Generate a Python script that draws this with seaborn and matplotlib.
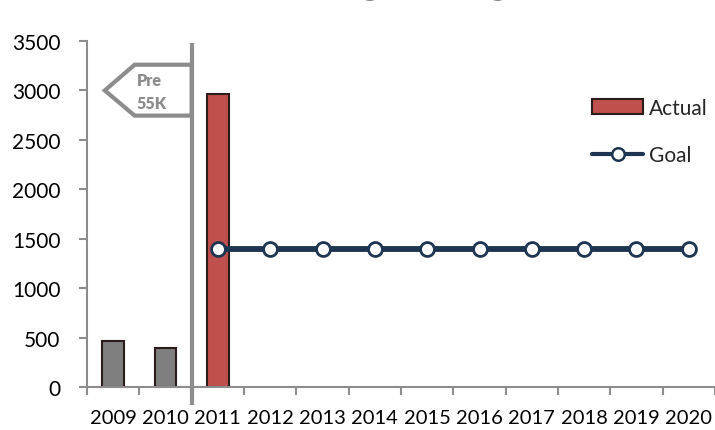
import matplotlib
matplotlib.use("Agg")
import matplotlib.pyplot as plt
from matplotlib.patches import Polygon, Patch
from matplotlib.lines import Line2D
import seaborn as sns
import pandas as pd
import numpy as np

# ---- data ----
years = ["2009", "2010", "2011", "2012", "2013", "2014", "2015",
         "2016", "2017", "2018", "2019", "2020"]
actual = [470, 395, 2960, np.nan, np.nan, np.nan, np.nan,
          np.nan, np.nan, np.nan, np.nan, np.nan]
goal = [np.nan, np.nan, 1400, 1400, 1400, 1400, 1400,
        1400, 1400, 1400, 1400, 1400]
yticks = [0, 500, 1000, 1500, 2000, 2500, 3000, 3500]
title = "Hiring Budget"
marker_label = ["Pre", "55K"]

# ---- style ----
sns.set_theme(style="white")
plt.rcParams["font.family"] = ["Lato", "DejaVu Sans"]

GRAY_AXIS = "#8c8c8c"
PRE_GRAY = "#7f7f7f"
RED = "#c0504d"
NAVY = "#1d3550"
OUTLINE = "#2b1b1b"
LABEL_SIZE = 15

df = pd.DataFrame({"year": years, "actual": actual, "goal": goal})
df["pos"] = np.arange(len(years))

fig = plt.figure(figsize=(7.15, 4.31), dpi=100)
ax = fig.add_axes([87 / 715, 1 - 388 / 431, 1 - 87 / 715, (388 - 42) / 431])

# bars: years before the split in gray, the rest in red
bar_colors = {y: (PRE_GRAY if i < 2 else RED) for i, y in enumerate(years)}
sns.barplot(data=df, x="year", y="actual", hue="year", palette=bar_colors,
            order=years, width=0.42, edgecolor=OUTLINE, linewidth=1.5,
            legend=False, ax=ax, saturation=1)

# goal line with hollow markers
gdf = df.dropna(subset=["goal"])
sns.lineplot(data=gdf, x="pos", y="goal", color=NAVY, linewidth=4.2,
             marker="o", markersize=10, markerfacecolor="white",
             markeredgecolor=NAVY, markeredgewidth=2, ax=ax, zorder=4)

ax.set_xlim(-0.5, len(years) - 0.5)
ax.set_ylim(0, 3500)
ax.set_yticks(yticks)
ax.set_xlabel("")
ax.set_ylabel("")

for side in ("top", "right"):
    ax.spines[side].set_visible(False)
for side in ("left", "bottom"):
    ax.spines[side].set_color(GRAY_AXIS)
    ax.spines[side].set_linewidth(1.5)

# category labels centred, tick marks between categories
ax.set_xticks(np.arange(len(years)))
ax.set_xticklabels(years)
ax.set_xticks(np.arange(len(years) + 1) - 0.5, minor=True)
ax.tick_params(axis="x", which="major", length=0, pad=16,
               labelsize=14.5, labelcolor="black")
ax.tick_params(axis="x", which="minor", length=6, width=1.5,
               color=GRAY_AXIS, direction="out", bottom=True)
ax.tick_params(axis="y", length=6, width=1.5, color=GRAY_AXIS,
               direction="out", left=True, pad=13, labelsize=LABEL_SIZE,
               labelcolor="black")

# vertical split line between the two eras
ax.plot([1.5, 1.5], [3480, -180], color=GRAY_AXIS, linewidth=3,
        clip_on=False, zorder=5, solid_capstyle="butt")

# arrow-shaped tag pointing back to the earlier years
tag = Polygon([(1.5, 3260), (0.41, 3260), (-0.16, 3000),
               (0.41, 2745), (1.5, 2745)],
              closed=True, facecolor="white", edgecolor=GRAY_AXIS,
              linewidth=3, zorder=4, joinstyle="miter")
ax.add_patch(tag)
ax.text(0.45, 3105, marker_label[0], color=GRAY_AXIS, fontsize=11.5,
        fontweight="heavy", ha="left", va="center", zorder=6)
ax.text(0.45, 2875, marker_label[1], color=GRAY_AXIS, fontsize=11.5,
        fontweight="heavy", ha="left", va="center", zorder=6)

# legend
handles = [
    Patch(facecolor=RED, edgecolor=OUTLINE, linewidth=1.5, label="Actual"),
    Line2D([0], [0], color=NAVY, linewidth=3, marker="o", markersize=9,
           markerfacecolor="white", markeredgecolor=NAVY,
           markeredgewidth=1.8, label="Goal"),
]
leg = ax.legend(handles=handles, loc="upper left", frameon=False,
                fontsize=LABEL_SIZE, handlelength=2.45, handleheight=0.7,
                handletextpad=0.3, labelspacing=1.3, borderaxespad=0,
                borderpad=0)
leg.set_bbox_to_anchor((592 / 715, 1 - 99 / 431), transform=fig.transFigure)

# chart title, sitting mostly above the visible canvas
fig.text(0.5625, 1.019, title, fontsize=36, fontweight="bold",
         ha="center", va="baseline", color="black")

fig.savefig("out.png", dpi=100)
